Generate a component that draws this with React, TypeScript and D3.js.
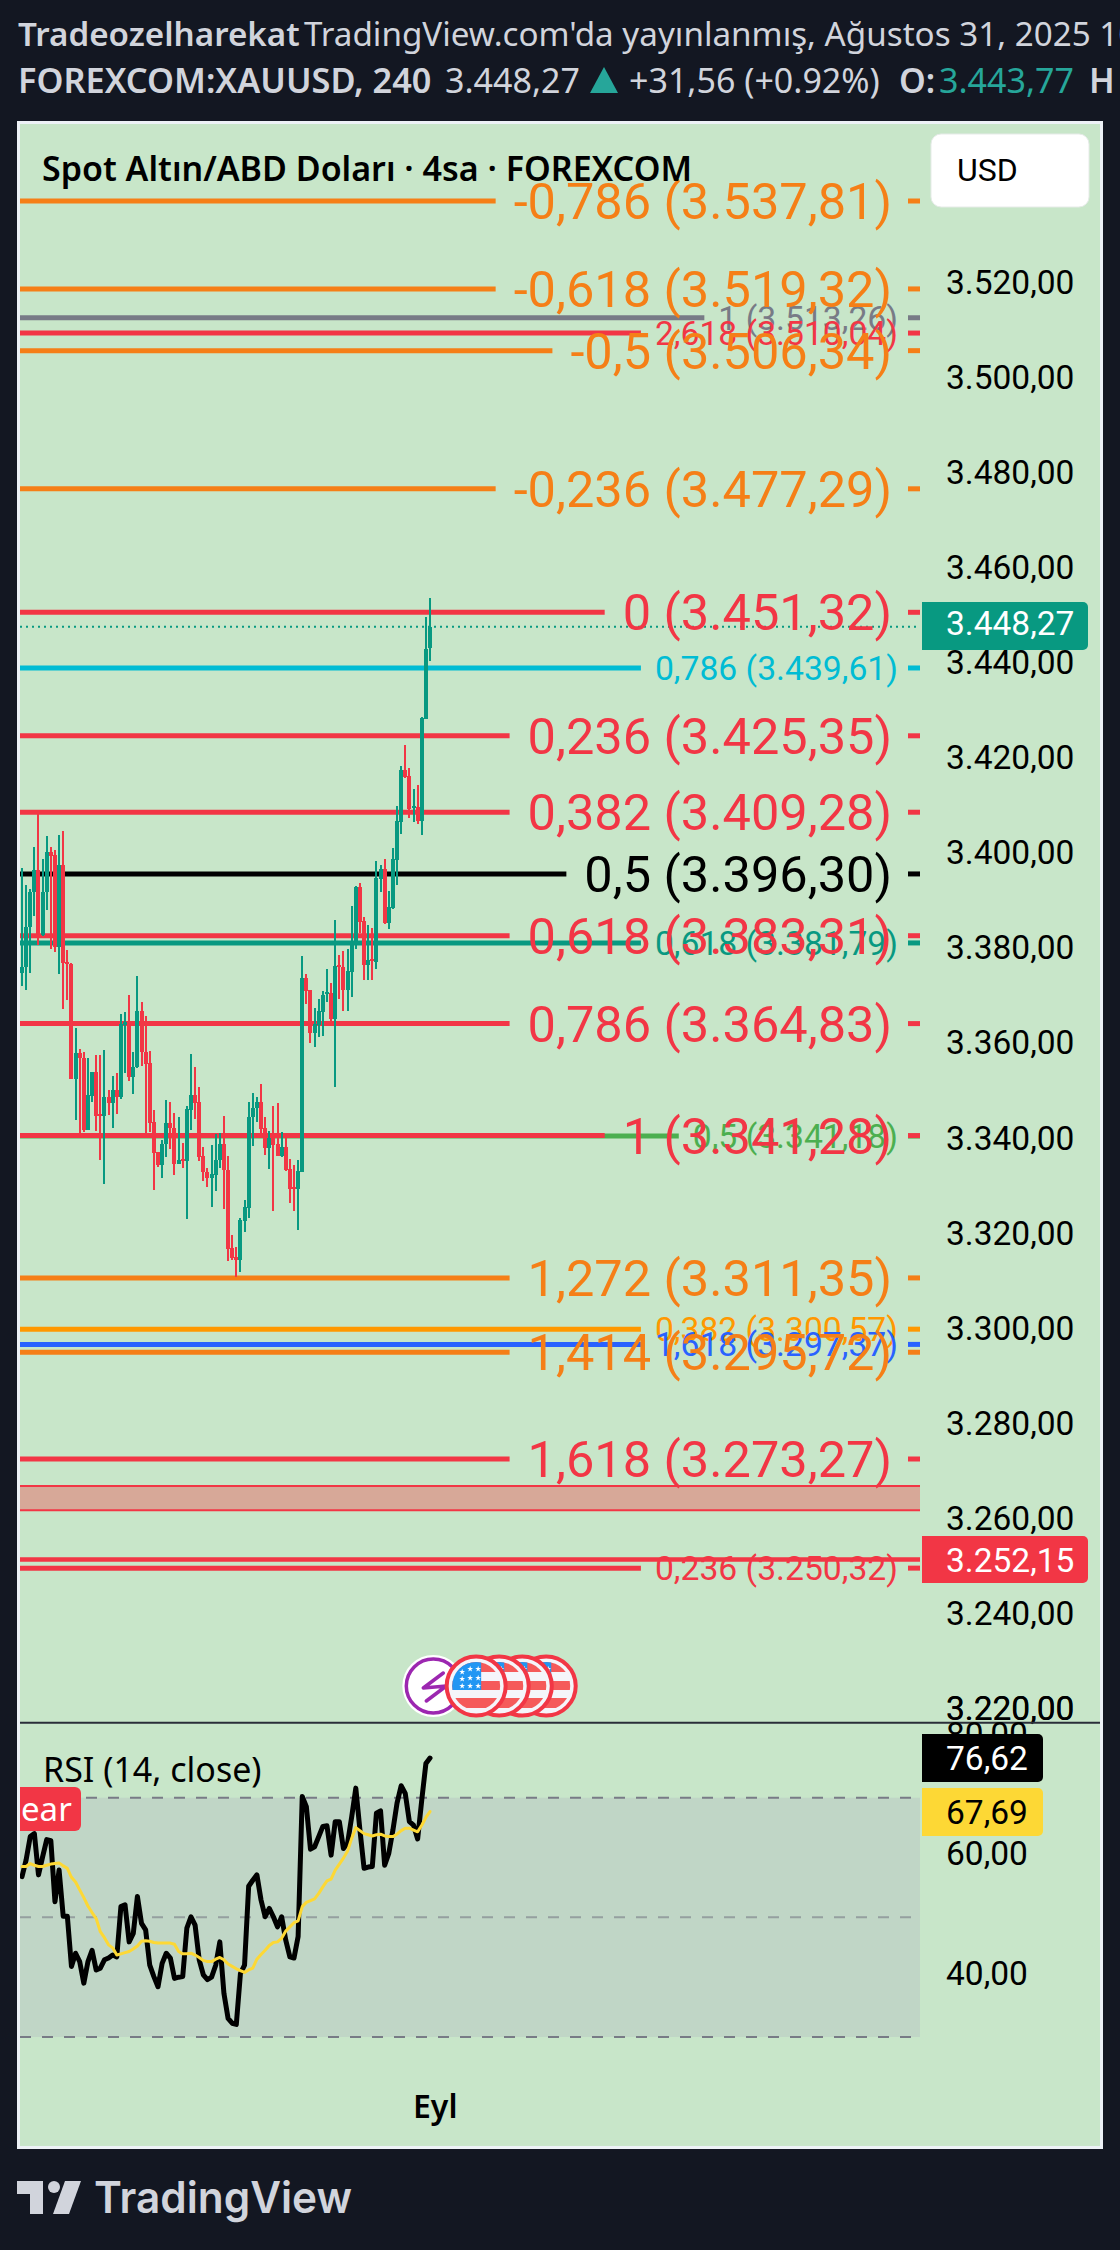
import React from "react";
import * as d3 from "d3";

// ---- price data ----
const candleOpen = [3375.5,3376.7,3385.1,3392.4,3397.1,3383.5,3392.4,3400.9,3400.3,3381.0,3398.2,3377.8,3377.4,3353.2,3358.6,3357.7,3342.4,3349.7,3354.7,3345.9,3345.5,3349.3,3348.2,3350.9,3349.3,3364.5,3364.7,3353.7,3355.8,3367.5,3358.8,3356.5,3344.1,3337.8,3335.1,3339.6,3344.0,3342.8,3335.4,3336.3,3336.0,3346.7,3349.8,3348.3,3337.0,3333.6,3332.4,3333.0,3336.1,3339.5,3334.0,3317.6,3315.7,3315.1,3323.3,3326.0,3345.2,3347.0,3348.3,3342.8,3338.7,3340.8,3339.5,3337.0,3338.9,3334.3,3330.4,3330.0,3333.6,3374.4,3371.9,3362.9,3364.5,3367.3,3371.0,3371.3,3365.8,3377.2,3376.7,3371.9,3375.7,3381.4,3393.6,3386.4,3377.2,3378.4,3377.8,3395.2,3397.3,3386.0,3389.1,3399.2,3407.2,3418.1,3416.9,3410.2,3410.4,3407.4,3428.9,3443.77];
const candleHigh = [3397.5,3394.0,3393.1,3402.0,3409.0,3399.4,3404.3,3402.0,3401.3,3404.5,3405.3,3380.3,3377.5,3363.8,3359.5,3358.8,3357.7,3354.7,3358.2,3358.2,3359.3,3350.9,3353.8,3354.4,3366.8,3367.3,3370.8,3358.9,3374.8,3369.4,3366.4,3359.1,3346.7,3337.9,3340.3,3348.8,3348.3,3346.0,3345.2,3339.7,3347.5,3358.4,3355.7,3351.5,3338.9,3334.5,3339.3,3341.6,3341.8,3345.4,3337.0,3320.4,3317.8,3323.9,3327.7,3348.3,3350.2,3349.4,3352.1,3345.2,3342.2,3347.5,3348.1,3342.0,3340.8,3336.4,3335.1,3336.1,3379.0,3375.3,3371.9,3368.1,3370.0,3371.7,3376.3,3373.4,3386.6,3379.3,3380.1,3380.5,3389.6,3393.8,3394.4,3387.2,3385.6,3384.9,3399.0,3398.2,3399.4,3392.7,3401.8,3410.6,3419.0,3423.4,3418.6,3414.2,3415.0,3429.3,3450.3,3454.3];
const candleLow = [3372.7,3371.9,3375.5,3387.5,3381.4,3383.3,3388.7,3380.5,3379.9,3375.3,3367.9,3369.8,3353.2,3344.6,3341.4,3342.1,3342.4,3348.4,3342.2,3336.1,3331.1,3345.6,3342.8,3345.8,3349.0,3354.4,3352.8,3350.0,3355.4,3355.9,3341.8,3342.0,3329.8,3334.7,3332.4,3336.8,3338.5,3333.0,3335.3,3334.5,3323.7,3342.4,3344.8,3335.9,3331.7,3330.5,3326.3,3329.6,3334.5,3325.8,3314.9,3315.1,3311.5,3312.6,3321.0,3323.9,3339.1,3344.1,3341.8,3337.2,3334.3,3325.4,3337.0,3336.8,3333.8,3327.1,3325.4,3321.4,3333.6,3369.0,3360.7,3359.9,3362.0,3362.2,3369.4,3365.2,3351.5,3370.0,3367.5,3367.5,3370.4,3380.5,3383.8,3374.0,3374.0,3374.0,3376.3,3392.5,3385.8,3384.7,3388.9,3394.0,3404.7,3416.5,3408.0,3407.2,3406.8,3404.5,3428.9,3441.1];
const candleClose = [3376.7,3385.1,3392.4,3397.1,3383.5,3392.4,3400.9,3400.1,3381.0,3398.2,3377.5,3377.4,3353.2,3358.6,3357.7,3342.4,3349.8,3354.7,3345.5,3345.5,3349.3,3348.2,3350.9,3349.3,3364.7,3365.2,3353.7,3355.8,3367.5,3358.8,3356.3,3344.0,3337.7,3335.1,3339.6,3343.9,3342.8,3335.4,3336.1,3336.0,3346.9,3349.8,3348.2,3336.8,3333.6,3332.4,3333.2,3336.1,3339.5,3334.0,3317.4,3315.5,3315.1,3323.5,3326.3,3345.2,3347.1,3348.3,3342.7,3338.7,3340.8,3339.3,3337.0,3338.9,3334.0,3330.0,3330.0,3333.8,3374.4,3371.7,3362.9,3364.7,3367.5,3370.8,3371.4,3365.8,3376.9,3376.8,3371.9,3375.9,3381.4,3393.6,3386.2,3377.2,3378.2,3378.0,3395.4,3397.3,3386.0,3389.3,3399.4,3407.4,3418.1,3416.7,3409.9,3410.6,3407.4,3429.1,3443.7,3448.27];

const rsiValues = [56.8,59.6,63.5,64,57.1,60.1,63,62.8,52.6,57.9,50.2,50.2,41.8,44,42.6,39,42.6,44.5,41.2,41.5,42.9,43.2,43.7,43.4,51.8,52.1,45.9,47.3,53.5,49,47.9,42,40.1,38.4,42.3,44,43.2,39.8,40,40.1,48.2,50.1,48.7,42.9,40.4,39.6,40,42,45.9,37.3,33.1,32.3,32.1,40.6,42,55.2,56.2,57.1,52.9,50.1,51.5,50.1,48.4,50.1,46.2,43.4,43.2,46.8,70.2,68.5,61.4,61.8,63.5,65.2,65.3,60.4,66,66,61.5,62.4,66.8,71.6,64.6,58.2,58.4,58.5,67.4,67.8,58.7,60.7,64.6,69.1,72,70.7,66,65.4,63.1,69.6,75.7,76.62];
const rsiMa = [58.5,58.5,59,58.7,58.5,58.5,58.7,58.9,59,59.1,58.6,58.2,56.7,55.9,54.6,53.3,51.9,50.8,49.8,47.6,46.6,45.4,44.9,43.7,43.9,44.1,44.3,44.7,45.2,46,46.1,46,45.8,45.7,45.7,45.7,45.7,45.5,44.3,43.9,43.9,44,43.7,43.3,42.8,42.6,42.6,43,43.3,42.9,42.2,41.8,41.4,41.1,40.8,41.2,41.5,43,43.8,44.5,45.3,45.8,45.9,46.5,47.7,48.4,49.1,49.4,51.8,52.5,52.8,53.1,54,55.1,56.1,56.4,57.9,58.9,59.9,61.1,63.2,65,64.5,64,63.8,63.6,63.8,63.9,63.6,63.5,63.5,63.9,64.5,64.9,64.9,64.6,64.3,65.4,66.7,67.69];

// ---- levels ----
const bigRatios = ["-0,786","-0,618","-0,5","-0,236","0","0,236","0,382","0,5","0,618","0,786","1","1,272","1,414","1,618"];
const bigPrices = [3537.81,3519.32,3506.34,3477.29,3451.32,3425.35,3409.28,3396.30,3383.31,3364.83,3341.28,3311.35,3295.72,3273.27];
const bigKinds = ["orange","orange","orange","orange","red","red","red","black","red","red","red","orange","orange","red"];

const smallRatios = ["1","2,618","0,786","0,618","0,5","0,382","1,618","0,236"];
const smallPrices = [3513.26,3510.04,3439.61,3381.79,3341.18,3300.57,3297.37,3250.32];
const smallKinds = ["grey","red","cyan","teal","green","amber","blue","red"];

const zonePrices = [3267.6, 3262.5];
const lastPrice = 3448.27;
const alertPrice = 3252.15;
const priceTicks = [3520,3500,3480,3460,3440,3420,3400,3380,3360,3340,3320,3300,3280,3260,3240,3220];
const rsiTicks = [80,60,40];
const rsiBands = [70,50,30];
const eventBars = [99.8,110.2,115.8,121.4,127.2];

const palette: Record<string,string> = {
  orange:"#f57f17", red:"#f23645", black:"#000000", grey:"#787b86", cyan:"#00bcd4",
  teal:"#089981", green:"#4caf50", amber:"#ff9800", blue:"#2962ff",
};
const UP = "#089981", DOWN = "#f23645";
const ROBOTO = "Roboto, sans-serif";
const SANS = "'Noto Sans', 'Open Sans', sans-serif";
const BIG = 50.5, SMALL = 33.7, AXIS = 33.5;

const tr = d3.formatLocale({decimal:",",thousands:".",grouping:[3],currency:["","$"]});
const fmt = tr.format(",.2f");

const canvas = document.createElement("canvas");
const ctx = canvas.getContext("2d")!;
function textW(s:string,size:number){ ctx.font=`${size}px Roboto`; return ctx.measureText(s).width; }

const L = 20, R = 920;
const y = d3.scaleLinear().domain([3451.32,3273.27]).range([612.3,1459]);
const yr = d3.scaleLinear().domain([70,30]).range([1797.7,2037]);
const x = d3.scaleLinear().domain([0,99]).range([22,430]);

function rightRound(x0:number,y0:number,x1:number,y1:number,r=5){
  const p=d3.path();
  p.moveTo(x0,y0);p.lineTo(x1-r,y0);p.arcTo(x1,y0,x1,y0+r,r);p.lineTo(x1,y1-r);p.arcTo(x1,y1,x1-r,y1,r);p.lineTo(x0,y1);p.closePath();
  return p.toString();
}

function Level({ratio,price,kind,size,end,gap}:{ratio:string;price:number;kind:string;size:number;end:number;gap:number}){
  const label=`${ratio} (${fmt(price)})`;
  const w=textW(label,size);
  const c=palette[kind];
  const yy=y(price);
  return <g>
    <line x1={L} x2={end-w-gap} y1={yy} y2={yy} stroke={c} strokeWidth={5}/>
    <line x1={908} x2={R} y1={yy} y2={yy} stroke={c} strokeWidth={5}/>
  </g>;
}
function LevelText({ratio,price,kind,size,end}:{ratio:string;price:number;kind:string;size:number;end:number}){
  return <text x={end} y={y(price)+size*0.355} textAnchor="end" fontFamily={ROBOTO} fontSize={size} fill={palette[kind]}>{`${ratio} (${fmt(price)})`}</text>;
}

const star=d3.symbol().type(d3.symbolStar).size(11)()!;
function Flag({cx,cy,id}:{cx:number;cy:number;id:string}){
  const stripes=[[-24,10],[-5,9],[12,10]];
  const stars=[[-14,-14],[-6,-17],[2,-17],[-14,-7],[-6,-8],[2,-8],[-14,0],[-6,0],[2,0]];
  return <g transform={`translate(${cx},${cy})`}>
    <clipPath id={id}><circle r={24}/></clipPath>
    <circle r={29.5} fill="#f5f5fa" stroke="#f23645" strokeWidth={4}/>
    <g clipPath={`url(#${id})`}>
      <rect x={-25} y={-25} width={50} height={50} fill="#f5f5fa"/>
      {stripes.map((s,i)=><rect key={i} x={-25} y={s[0]} width={50} height={s[1]} fill="#f55a5a"/>)}
      <rect x={-25} y={-25} width={30} height={29} fill="#2196f3"/>
      {stars.map((s,i)=><path key={i} d={star} transform={`translate(${s[0]},${s[1]})`} fill="#fff"/>)}
    </g>
  </g>;
}

export default function App(){
  const lineRsi=d3.line<number>().x((_,i)=>x(i)).y(d=>yr(d)).curve(d3.curveLinear);
  const axisLabel=(t:string,yy:number,k:number)=><text key={k} x={946} y={yy} fontFamily={ROBOTO} fontSize={AXIS} fill="#000">{t}</text>;
  return (
    <svg width={1120} height={2250} viewBox="0 0 1120 2250" style={{position:"absolute",left:0,top:0,display:"block"}}>
      <rect width={1120} height={2250} fill="#131722"/>

      {/* header */}
      <text y={46} fontFamily={SANS} fontSize={33.2} fill="#d1d4dc">
        <tspan x={18} fontWeight={600}>Tradeozelharekat</tspan>
        <tspan x={304}>TradingView.com'da yayınlanmış, Ağustos 31, 2025 10:24 UTC</tspan>
      </text>
      <g fontFamily={SANS} fontSize={34} fill="#d1d4dc">
        <text x={18} y={93} fontWeight={600} fontSize={34.3}>FOREXCOM:XAUUSD, 240</text>
        <text x={445} y={93}>3.448,27</text>
        <path d="M590,93 L604,67 L618,93 Z" fill="#26a69a"/>
        <text x={629} y={93}>+31,56 (+0.92%)</text>
        <text x={899} y={93} fontWeight={600}>O:</text>
        <text x={939} y={93} fill="#26a69a">3.443,77</text>
        <text x={1089} y={93} fontWeight={600}>H</text>
      </g>

      {/* panel */}
      <rect x={17} y={121} width={1086} height={2028} fill="#edf2f6"/>
      <rect x={L} y={124} width={1080} height={2022} fill="#c8e6c9"/>

      {/* zone */}
      <rect x={L} y={y(zonePrices[0])} width={R-L} height={y(zonePrices[1])-y(zonePrices[0])} fill="#d7a898"/>
      {zonePrices.map((p,i)=><line key={i} x1={L} x2={R} y1={y(p)} y2={y(p)} stroke="#f23645" strokeWidth={2}/>)}

      {/* fib lines */}
      {smallRatios.map((r,i)=><Level key={i} ratio={r} price={smallPrices[i]} kind={smallKinds[i]} size={SMALL} end={898} gap={14}/>)}
      {bigRatios.map((r,i)=><Level key={i} ratio={r} price={bigPrices[i]} kind={bigKinds[i]} size={BIG} end={892} gap={18}/>)}
      <line x1={L} x2={R} y1={y(alertPrice)} y2={y(alertPrice)} stroke="#f23645" strokeWidth={4.5}/>
      <line x1={L} x2={R} y1={y(lastPrice)} y2={y(lastPrice)} stroke="#089981" strokeWidth={2} strokeDasharray="2 4"/>

      {/* candles */}
      {candleOpen.map((o,i)=>{
        const c=candleClose[i];
        const col=c>=o?UP:DOWN;
        const cx=Math.round(x(i));
        const t=y(Math.max(o,c)), b=y(Math.min(o,c));
        return <g key={i} fill={col} shapeRendering="crispEdges">
          <rect x={cx-1} width={2} y={y(candleHigh[i])} height={y(candleLow[i])-y(candleHigh[i])}/>
          <rect x={Math.max(L,cx-2)} width={cx-2<L?cx+2-L:4} y={t} height={Math.max(1.5,b-t)}/>
        </g>;
      })}

      {/* fib labels */}
      {smallRatios.map((r,i)=><LevelText key={i} ratio={r} price={smallPrices[i]} kind={smallKinds[i]} size={SMALL} end={898}/>)}
      {bigRatios.map((r,i)=><LevelText key={i} ratio={r} price={bigPrices[i]} kind={bigKinds[i]} size={BIG} end={892}/>)}

      {/* title + currency */}
      <text x={42} y={181} fontFamily={SANS} fontSize={34} fontWeight={600} fill="#000">Spot Altın/ABD Doları · 4sa · FOREXCOM</text>
      <rect x={931} y={134} width={158} height={73} rx={10} fill="#fff" stroke="#e6ebe8"/>
      <text x={957} y={181} fontFamily={ROBOTO} fontSize={32} fill="#000">USD</text>

      {/* price axis */}
      {priceTicks.map((t,i)=>axisLabel(fmt(t),y(t)-4+AXIS*0.355,i))}
      <path d={rightRound(922,602,1088,650)} fill="#089981"/>
      <text x={946} y={y(lastPrice)+8} fontFamily={ROBOTO} fontSize={AXIS} fill="#fff">{fmt(lastPrice)}</text>
      <path d={rightRound(922,1536,1088,1583)} fill="#f23645"/>
      <text x={946} y={1572} fontFamily={ROBOTO} fontSize={AXIS} fill="#fff">{fmt(alertPrice)}</text>

      {/* events */}
      <g transform={`translate(${x(eventBars[0])},1686)`}>
        <circle r={31} fill="#fff"/>
        <circle r={27} fill="#fff" stroke="#9c27b0" strokeWidth={3.5}/>
        <path d="M10,-13 L-10,2 L13,0 L-7,15" fill="none" stroke="#9c27b0" strokeWidth={3.5} strokeLinecap="round" strokeLinejoin="round"/>
      </g>
      {eventBars.slice(1).reverse().map((b,i)=><Flag key={i} cx={x(b)} cy={1686} id={`flag${i}`}/>)}

      {/* rsi pane */}
      <rect x={L} y={1723} width={1080} height={423} fill="#c8e6c9"/>
      {axisLabel(fmt(3220),y(3220)-4+AXIS*0.355,99)}
      <rect x={L} y={yr(70)} width={R-L} height={yr(30)-yr(70)} fill="#c0d6c6"/>
      {rsiBands.map((b,i)=><line key={b} x1={L} x2={R} y1={yr(b)} y2={yr(b)} stroke="#787b86" strokeOpacity={i===1?0.6:1} strokeWidth={2} strokeDasharray="11 11"/>)}
      <line x1={L} x2={1100} y1={1722.7} y2={1722.7} stroke="#2a2e39" strokeWidth={2}/>
      {rsiTicks.map((t)=><text key={t} x={946} y={yr(t)-4+AXIS*0.355} fontFamily={ROBOTO} fontSize={AXIS} fill="#000">{fmt(t)}</text>)}
      <path d={rightRound(L,1787,81,1831,6)} fill="#f23645"/>
      <text x={21} y={1821} fontFamily={SANS} fontSize={33} fill="#fff">ear</text>
      <text x={43} y={1782} fontFamily={SANS} fontSize={34} fill="#000">RSI (14, close)</text>
      <path d={lineRsi(rsiValues)!} fill="none" stroke="#000" strokeWidth={5} strokeLinejoin="round" strokeLinecap="round"/>
      <path d={lineRsi(rsiMa)!} fill="none" stroke="#fdd835" strokeWidth={3} strokeLinejoin="round" strokeLinecap="round"/>
      <rect x={L-3} y={1723} width={3} height={423} fill="#edf2f6"/>
      <path d={rightRound(922,1734,1043,1782)} fill="#000"/>
      <text x={946} y={1770} fontFamily={ROBOTO} fontSize={AXIS} fill="#fff">{fmt(rsiValues[rsiValues.length-1])}</text>
      <path d={rightRound(922,1788,1043,1836)} fill="#fdd835"/>
      <text x={946} y={1824} fontFamily={ROBOTO} fontSize={AXIS} fill="#000">{fmt(rsiMa[rsiMa.length-1])}</text>

      <text x={413} y={2118} fontFamily={SANS} fontSize={32} fontWeight={600} fill="#000">Eyl</text>

      {/* footer logo */}
      <g fill="#d1d4dc">
        <path d="M17,2181 H43 V2214 H30 V2194 H17 Z"/>
        <circle cx={54} cy={2187} r={6}/>
        <path d="M65,2181 H81 L69,2214 H53 Z"/>
        <text x={94} y={2213} fontFamily="Inter, sans-serif" fontWeight={600} fontSize={44} textLength={258} lengthAdjust="spacingAndGlyphs">TradingView</text>
      </g>
    </svg>
  );
}
